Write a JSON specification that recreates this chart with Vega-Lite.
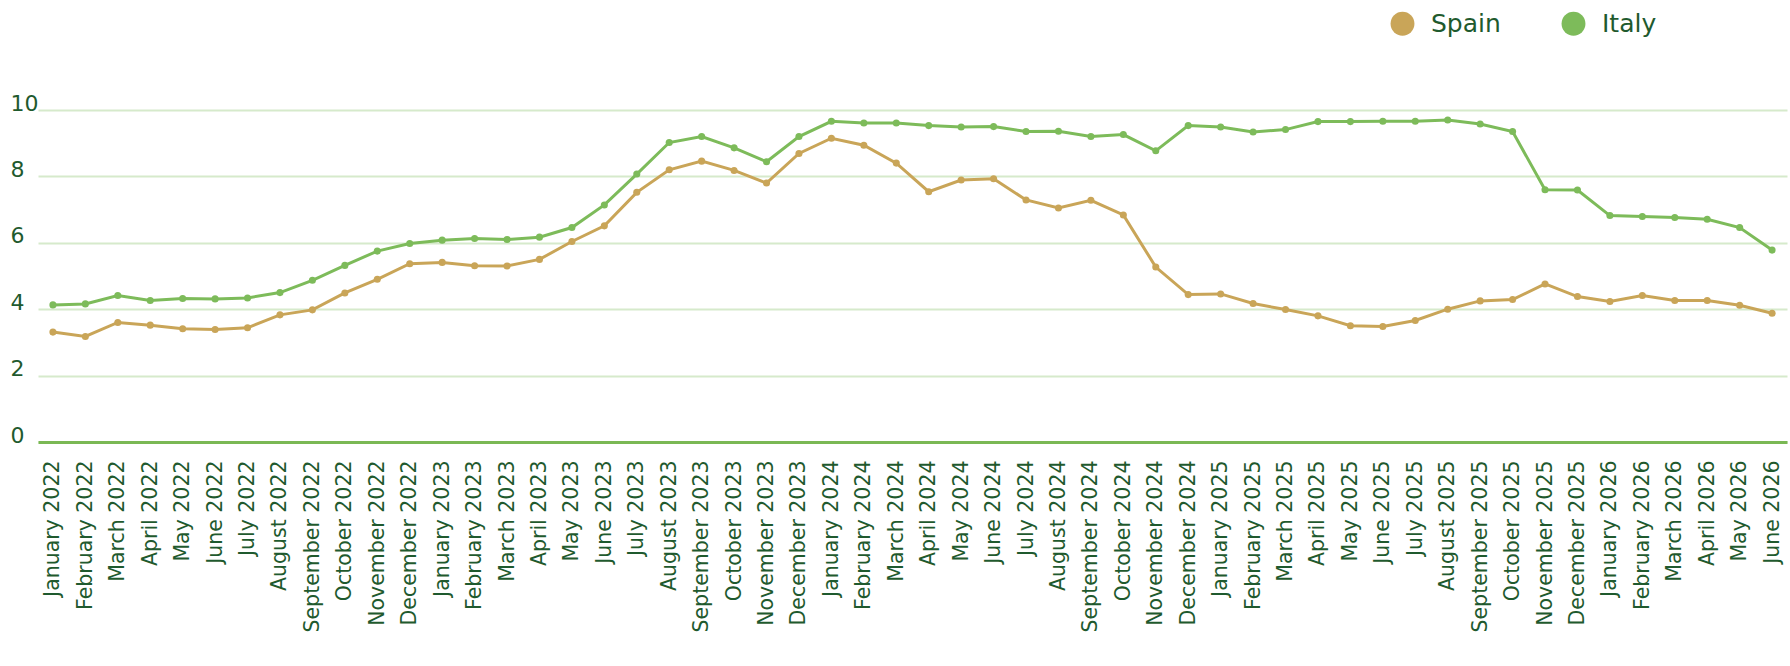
{
  "$schema": "https://vega.github.io/schema/vega-lite/v6.json",
  "width": 1749,
  "height": 332,
  "autosize": {"type": "none"},
  "padding": {"left": 38, "top": 110, "right": 3, "bottom": 224},
  "background": "white",
  "config": {"view": {"stroke": null}, "font": "DejaVu Sans"},
  "datasets": {
    "rows": [
      {"month": "January 2022", "country": "Spain", "value": 3.31},
      {"month": "February 2022", "country": "Spain", "value": 3.18},
      {"month": "March 2022", "country": "Spain", "value": 3.60},
      {"month": "April 2022", "country": "Spain", "value": 3.52},
      {"month": "May 2022", "country": "Spain", "value": 3.41},
      {"month": "June 2022", "country": "Spain", "value": 3.39},
      {"month": "July 2022", "country": "Spain", "value": 3.44},
      {"month": "August 2022", "country": "Spain", "value": 3.83},
      {"month": "September 2022", "country": "Spain", "value": 3.98},
      {"month": "October 2022", "country": "Spain", "value": 4.49},
      {"month": "November 2022", "country": "Spain", "value": 4.90},
      {"month": "December 2022", "country": "Spain", "value": 5.37},
      {"month": "January 2023", "country": "Spain", "value": 5.41},
      {"month": "February 2023", "country": "Spain", "value": 5.31},
      {"month": "March 2023", "country": "Spain", "value": 5.30},
      {"month": "April 2023", "country": "Spain", "value": 5.50},
      {"month": "May 2023", "country": "Spain", "value": 6.04},
      {"month": "June 2023", "country": "Spain", "value": 6.51},
      {"month": "July 2023", "country": "Spain", "value": 7.52},
      {"month": "August 2023", "country": "Spain", "value": 8.20},
      {"month": "September 2023", "country": "Spain", "value": 8.46},
      {"month": "October 2023", "country": "Spain", "value": 8.18},
      {"month": "November 2023", "country": "Spain", "value": 7.80},
      {"month": "December 2023", "country": "Spain", "value": 8.69},
      {"month": "January 2024", "country": "Spain", "value": 9.15},
      {"month": "February 2024", "country": "Spain", "value": 8.94},
      {"month": "March 2024", "country": "Spain", "value": 8.40},
      {"month": "April 2024", "country": "Spain", "value": 7.54},
      {"month": "May 2024", "country": "Spain", "value": 7.89},
      {"month": "June 2024", "country": "Spain", "value": 7.93},
      {"month": "July 2024", "country": "Spain", "value": 7.29},
      {"month": "August 2024", "country": "Spain", "value": 7.05},
      {"month": "September 2024", "country": "Spain", "value": 7.28},
      {"month": "October 2024", "country": "Spain", "value": 6.84},
      {"month": "November 2024", "country": "Spain", "value": 5.27},
      {"month": "December 2024", "country": "Spain", "value": 4.44},
      {"month": "January 2025", "country": "Spain", "value": 4.46},
      {"month": "February 2025", "country": "Spain", "value": 4.17},
      {"month": "March 2025", "country": "Spain", "value": 3.99},
      {"month": "April 2025", "country": "Spain", "value": 3.80},
      {"month": "May 2025", "country": "Spain", "value": 3.50},
      {"month": "June 2025", "country": "Spain", "value": 3.48},
      {"month": "July 2025", "country": "Spain", "value": 3.66},
      {"month": "August 2025", "country": "Spain", "value": 4.00},
      {"month": "September 2025", "country": "Spain", "value": 4.25},
      {"month": "October 2025", "country": "Spain", "value": 4.29},
      {"month": "November 2025", "country": "Spain", "value": 4.76},
      {"month": "December 2025", "country": "Spain", "value": 4.38},
      {"month": "January 2026", "country": "Spain", "value": 4.23},
      {"month": "February 2026", "country": "Spain", "value": 4.41},
      {"month": "March 2026", "country": "Spain", "value": 4.26},
      {"month": "April 2026", "country": "Spain", "value": 4.26},
      {"month": "May 2026", "country": "Spain", "value": 4.12},
      {"month": "June 2026", "country": "Spain", "value": 3.88},
      {"month": "January 2022", "country": "Italy", "value": 4.13},
      {"month": "February 2022", "country": "Italy", "value": 4.16},
      {"month": "March 2022", "country": "Italy", "value": 4.41},
      {"month": "April 2022", "country": "Italy", "value": 4.26},
      {"month": "May 2022", "country": "Italy", "value": 4.32},
      {"month": "June 2022", "country": "Italy", "value": 4.31},
      {"month": "July 2022", "country": "Italy", "value": 4.34},
      {"month": "August 2022", "country": "Italy", "value": 4.50},
      {"month": "September 2022", "country": "Italy", "value": 4.87},
      {"month": "October 2022", "country": "Italy", "value": 5.32},
      {"month": "November 2022", "country": "Italy", "value": 5.75},
      {"month": "December 2022", "country": "Italy", "value": 5.98},
      {"month": "January 2023", "country": "Italy", "value": 6.08},
      {"month": "February 2023", "country": "Italy", "value": 6.13},
      {"month": "March 2023", "country": "Italy", "value": 6.10},
      {"month": "April 2023", "country": "Italy", "value": 6.17},
      {"month": "May 2023", "country": "Italy", "value": 6.46},
      {"month": "June 2023", "country": "Italy", "value": 7.14},
      {"month": "July 2023", "country": "Italy", "value": 8.07},
      {"month": "August 2023", "country": "Italy", "value": 9.02},
      {"month": "September 2023", "country": "Italy", "value": 9.20},
      {"month": "October 2023", "country": "Italy", "value": 8.86},
      {"month": "November 2023", "country": "Italy", "value": 8.44},
      {"month": "December 2023", "country": "Italy", "value": 9.20},
      {"month": "January 2024", "country": "Italy", "value": 9.66},
      {"month": "February 2024", "country": "Italy", "value": 9.61},
      {"month": "March 2024", "country": "Italy", "value": 9.61},
      {"month": "April 2024", "country": "Italy", "value": 9.53},
      {"month": "May 2024", "country": "Italy", "value": 9.49},
      {"month": "June 2024", "country": "Italy", "value": 9.50},
      {"month": "July 2024", "country": "Italy", "value": 9.35},
      {"month": "August 2024", "country": "Italy", "value": 9.36},
      {"month": "September 2024", "country": "Italy", "value": 9.20},
      {"month": "October 2024", "country": "Italy", "value": 9.26},
      {"month": "November 2024", "country": "Italy", "value": 8.77},
      {"month": "December 2024", "country": "Italy", "value": 9.53},
      {"month": "January 2025", "country": "Italy", "value": 9.49},
      {"month": "February 2025", "country": "Italy", "value": 9.34},
      {"month": "March 2025", "country": "Italy", "value": 9.41},
      {"month": "April 2025", "country": "Italy", "value": 9.65},
      {"month": "May 2025", "country": "Italy", "value": 9.65},
      {"month": "June 2025", "country": "Italy", "value": 9.66},
      {"month": "July 2025", "country": "Italy", "value": 9.66},
      {"month": "August 2025", "country": "Italy", "value": 9.70},
      {"month": "September 2025", "country": "Italy", "value": 9.58},
      {"month": "October 2025", "country": "Italy", "value": 9.35},
      {"month": "November 2025", "country": "Italy", "value": 7.60},
      {"month": "December 2025", "country": "Italy", "value": 7.59},
      {"month": "January 2026", "country": "Italy", "value": 6.82},
      {"month": "February 2026", "country": "Italy", "value": 6.79},
      {"month": "March 2026", "country": "Italy", "value": 6.76},
      {"month": "April 2026", "country": "Italy", "value": 6.71},
      {"month": "May 2026", "country": "Italy", "value": 6.46},
      {"month": "June 2026", "country": "Italy", "value": 5.78}
    ]
  },
  "data": {"name": "rows"},
  "mark": {"type": "line", "strokeWidth": 3, "point": {"filled": true, "size": 50}},
  "encoding": {
    "x": {
      "field": "month",
      "type": "ordinal",
      "sort": null,
      "scale": {"type": "point", "padding": 0.46},
      "axis": {
        "title": null,
        "labelAngle": -90,
        "labelFontSize": 20.5,
        "labelColor": "#1f5a2e",
        "ticks": false,
        "tickSize": 0,
        "labelPadding": 18,
        "domainColor": "#7ab854",
        "domainWidth": 3,
        "grid": false
      }
    },
    "y": {
      "field": "value",
      "type": "quantitative",
      "scale": {"domain": [0, 10]},
      "axis": {
        "title": null,
        "values": [0, 2, 4, 6, 8, 10],
        "domain": false,
        "ticks": false,
        "tickSize": 0,
        "labelAlign": "left",
        "labelBaseline": "alphabetic",
        "labelPadding": 28,
        "labelFontSize": 22,
        "labelColor": "#1f5a2e",
        "gridColor": "#d6eacb",
        "gridWidth": 2
      }
    },
    "color": {
      "field": "country",
      "type": "nominal",
      "scale": {"domain": ["Spain", "Italy"], "range": ["#c9a558", "#7dbb5a"]},
      "legend": {
        "title": null,
        "orient": "none",
        "direction": "horizontal",
        "legendX": 1352,
        "legendY": -99,
        "symbolType": "circle",
        "symbolSize": 570,
        "symbolStrokeWidth": 0,
        "labelFontSize": 25,
        "labelColor": "#1f5a2e",
        "labelOffset": 16,
        "columnPadding": 60,
        "encode": {
          "symbols": {"update": {"fill": {"scale": "color", "field": "value"}, "strokeWidth": {"value": 0}}}
        }
      }
    }
  }
}
